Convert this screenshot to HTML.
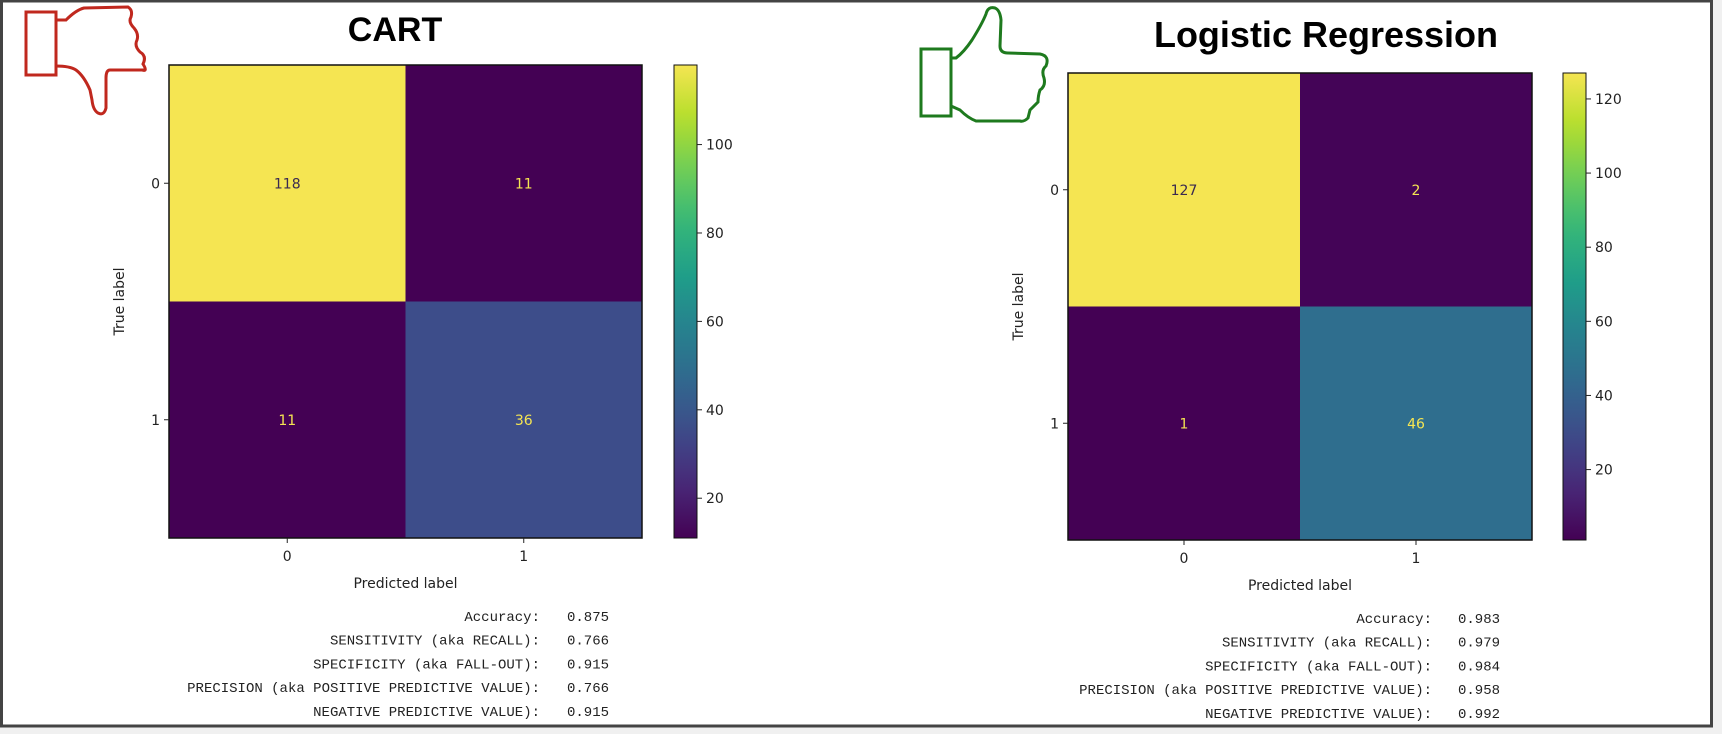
<!DOCTYPE html>
<html><head><meta charset="utf-8"><style>
body{margin:0;background:#fff;}
#wrap{position:relative;width:1722px;height:734px;overflow:hidden;background:#fff;}
svg text{font-family:"DejaVu Sans","Liberation Sans",sans-serif;}
</style></head><body>
<div id="wrap">
<svg id="svg" width="1722" height="734" xmlns="http://www.w3.org/2000/svg">
<rect x="0" y="0" width="1722" height="734" fill="#f0f0f0"/>
<rect x="1.5" y="1" width="1710" height="725" fill="#fff" stroke="#444" stroke-width="3"/>
<g fill="none" stroke="#c0281e" stroke-width="3">
<rect x="26" y="12" width="30" height="63" fill="#fff"/>
<path d="M56 20 L66 20 Q76 10 84 8 L128 7 Q133 10 131 17 Q128 22 134 28 Q139 34 137 40 Q134 46 140 52 Q147 56 143 64 Q148 72 142 70 Q147 70 141 70 L110 70 Q106 70 106 78 L106 108 Q104 116 98 113 Q93 110 92 100 L90 90 Q84 76 76 70 Q70 66 56 66"/>
</g>
<g fill="none" stroke="#1e7a1e" stroke-width="3">
<rect x="921" y="49" width="30" height="67" fill="#fff"/>
<path d="M951 58 L956 58 Q964 52 972 40 Q982 24 986 14 Q988 6 995 8 Q1000 10 1001 20 L1000 46 Q1000 53 1008 53 L1040 54 Q1050 56 1046 66 Q1041 70 1044 78 Q1046 86 1040 90 Q1038 96 1038 102 Q1034 106 1030 110 L1028 118 Q1024 122 1020 121 L976 121 Q968 118 960 110 L951 106"/>
</g>
</svg>
</div>
<script>
// ---- data ----
const classLabels = ["0","1"];
const cartMatrix = [[118,11],[11,36]];
const lrMatrix = [[127,2],[1,46]];
const cartTicks = [20,40,60,80,100];
const lrTicks = [20,40,60,80,100,120];
const metricNames = ["Accuracy:","SENSITIVITY (aka RECALL):","SPECIFICITY (aka FALL-OUT):","PRECISION (aka POSITIVE PREDICTIVE VALUE):","NEGATIVE PREDICTIVE VALUE):"];
const cartMetrics = ["0.875","0.766","0.915","0.766","0.915"];
const lrMetrics = ["0.983","0.979","0.984","0.958","0.992"];

const NS="http://www.w3.org/2000/svg";
const svg=document.getElementById('svg');
function mk(tag,attrs,parent){const e=document.createElementNS(NS,tag);for(const k in attrs)e.setAttribute(k,attrs[k]);(parent||svg).appendChild(e);return e;}
const vir=[[68,1,84],[72,40,120],[62,74,137],[49,104,142],[38,130,142],[31,158,137],[53,183,121],[110,206,88],[181,222,43],[245,229,82]];
function viridis(t){t=Math.max(0,Math.min(1,t));const p=t*(vir.length-1);const i=Math.min(vir.length-2,Math.floor(p));const f=p-i;const c=vir[i].map((v,k)=>Math.round(v+(vir[i+1][k]-v)*f));return `rgb(${c[0]},${c[1]},${c[2]})`;}

function panel(o){
  const g=mk('g',{});
  
  
  const t=mk('text',{x:o.titleX,y:o.titleY,'text-anchor':'middle','font-size':o.titleSize,'font-weight':'bold',fill:'#000',style:'font-family:"Liberation Sans",sans-serif'},g);
  t.textContent=o.title;
  
  
  const flat=o.m.flat();const vmin=Math.min(...flat),vmax=Math.max(...flat);
  const cw=(o.x1-o.x0)/2,ch=(o.y1-o.y0)/2;
  const xs=i=>o.x0+cw*(i+0.5), ys=i=>o.y0+ch*(i+0.5);
  for(let r=0;r<2;r++)for(let c=0;c<2;c++){
    const v=o.m[r][c];const tn=(v-vmin)/(vmax-vmin);
    const cell=mk('rect',{x:o.x0+cw*c,y:o.y0+ch*r,width:cw,height:ch,fill:viridis(tn)},g);
    
    
    const lab=mk('text',{x:xs(c),y:ys(r)+5,'text-anchor':'middle','font-size':14,fill:tn>0.5?'#3a2a50':'#f5e552'},g);
    lab.textContent=v;
    
    
  }
  mk('rect',{x:o.x0,y:o.y0,width:o.x1-o.x0,height:o.y1-o.y0,fill:'none',stroke:'#111','stroke-width':1.5},g);
  classLabels.forEach((l,i)=>{
    mk('line',{x1:o.x0-5,x2:o.x0,y1:ys(i),y2:ys(i),stroke:'#222'},g);
    const yt=mk('text',{x:o.x0-9,y:ys(i)+5,'text-anchor':'end','font-size':14,fill:'#222'},g);yt.textContent=l;
    
    
    mk('line',{x1:xs(i),x2:xs(i),y1:o.y1,y2:o.y1+5,stroke:'#222'},g);
    const xt=mk('text',{x:xs(i),y:o.y1+23,'text-anchor':'middle','font-size':14,fill:'#222'},g);xt.textContent=l;
    
    
  });
  const xl=mk('text',{x:(o.x0+o.x1)/2,y:o.y1+50,'text-anchor':'middle','font-size':14,fill:'#222'},g);xl.textContent='Predicted label';
  
  
  const yl=mk('text',{x:0,y:0,'text-anchor':'middle','font-size':14,fill:'#222',transform:`translate(${o.x0-45},${(o.y0+o.y1)/2}) rotate(-90)`},g);yl.textContent='True label';
  
  
  // colorbar
  const gid='grad'+o.name;
  const defs=mk('defs',{},g);const lg=mk('linearGradient',{id:gid,x1:0,y1:1,x2:0,y2:0},defs);
  for(let i=0;i<=20;i++)mk('stop',{offset:(i/20),'stop-color':viridis(i/20)},lg);
  const cb=mk('rect',{x:o.cbx,y:o.y0,width:23,height:o.y1-o.y0,fill:`url(#${gid})`,stroke:'#111','stroke-width':1},g);
  
  
  const cy=v=>o.y1-(v-vmin)/(vmax-vmin)*(o.y1-o.y0);
  o.ticks.forEach(v=>{
    mk('line',{x1:o.cbx+23,x2:o.cbx+28,y1:cy(v),y2:cy(v),stroke:'#222'},g);
    const tt=mk('text',{x:o.cbx+32,y:cy(v)+5,'font-size':14,fill:'#222'},g);tt.textContent=v;
    
    
  });
  // metrics
  metricNames.forEach((n,i)=>{
    const tx=mk('text',{x:o.colonX,y:o.textY+i*23.7,'text-anchor':'end','font-size':14,fill:'#222',style:'font-family:"Liberation Mono",monospace'},g);
    tx.textContent=n;
    
    
    const tv=mk('text',{x:o.valEnd,y:o.textY+i*23.7,'text-anchor':'end','font-size':14,fill:'#222',style:'font-family:"Liberation Mono",monospace'},g);
    tv.textContent=o.metrics[i];
    
    
  });
}
panel({name:'cart',title:'CART',titleX:395,titleY:41,titleSize:34,x0:169,x1:642,y0:65,y1:538,cbx:674,ticks:cartTicks,m:cartMatrix,metrics:cartMetrics,colonX:540,valEnd:609,textY:621});
panel({name:'logreg',title:'Logistic Regression',titleX:1326,titleY:47,titleSize:36,x0:1068,x1:1532,y0:73,y1:540,cbx:1563,ticks:lrTicks,m:lrMatrix,metrics:lrMetrics,colonX:1432,valEnd:1500,textY:623});
</script>
</body></html>
